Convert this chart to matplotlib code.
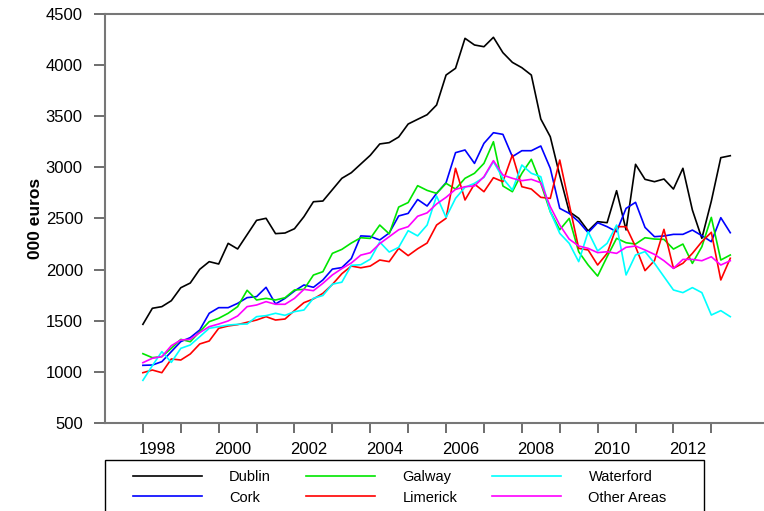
import numpy as np
import matplotlib
matplotlib.use("Agg")
from matplotlib import pyplot as plt
from matplotlib.patches import Rectangle

plt.rcParams['font.family'] = ['Liberation Sans', 'DejaVu Sans']

# quarterly, 1998 Q1 .. 2013 Q3
quarters = 1998 + np.arange(63) * 0.25

dublin = [1465, 1622, 1638, 1696, 1823, 1869, 2003, 2078, 2055, 2257, 2202, 2342, 2482, 2502, 2352, 2358, 2400, 2518, 2664,
          2671, 2782, 2893, 2948, 3033, 3118, 3229, 3242, 3297, 3424, 3470, 3515,
          3610, 3903, 3969, 4262, 4197, 4180, 4272, 4122, 4027, 3975, 3903, 3473, 3300,
          2920, 2567, 2502, 2378, 2469, 2459, 2772, 2388, 3030, 2883, 2860, 2886, 2788, 2991, 2583, 2306, 2670, 3095, 3114]
cork = [1064, 1067, 1100, 1198, 1296, 1335, 1410, 1573, 1628, 1628, 1670, 1726, 1736, 1827, 1664, 1719, 1791, 1850, 1827, 1899,
        2005, 2020, 2108, 2330, 2325, 2290, 2358, 2525, 2550, 2686, 2622,
        2746, 2850, 3144, 3170, 3039, 3235, 3339, 3323, 3105, 3163, 3163, 3209, 2991, 2599, 2550,
        2469, 2361, 2459, 2420, 2371, 2599, 2658, 2413, 2322, 2329, 2345, 2345, 2387, 2332, 2273, 2508, 2361]
galway = [1178, 1139, 1149, 1230, 1318, 1295, 1393, 1491, 1524, 1573, 1638, 1798, 1703, 1719, 1703,
          1725, 1801, 1807, 1947, 1980, 2159, 2198, 2260, 2312, 2305, 2436, 2350, 2612, 2656, 2821, 2775,
          2746, 2844, 2788, 2893, 2942, 3039, 3251, 2818, 2762, 2942, 3079, 2844, 2567, 2390, 2501,
          2175, 2045, 1937, 2126, 2306, 2263, 2250, 2312, 2299, 2296, 2201, 2250, 2061, 2224, 2511, 2094, 2143]
limerick = [992, 1018, 992, 1126, 1116, 1175, 1273, 1302, 1426, 1449, 1462, 1485, 1507, 1540, 1507, 1517, 1600, 1677, 1713, 1768,
            1855, 1960, 2035, 2018, 2035, 2094, 2078, 2208, 2137, 2204, 2260,
            2436, 2502, 2991, 2681, 2837, 2762, 2899, 2860, 3121, 2811, 2788, 2707, 2697, 3072, 2640,
            2208, 2192, 2045, 2159, 2420, 2420, 2225, 1990, 2088, 2394, 2013, 2062, 2159, 2273, 2365, 1899, 2111]
waterford = [917, 1061, 1198, 1093, 1230, 1263, 1344, 1426, 1442, 1458, 1465, 1468, 1540, 1550, 1573, 1553, 1589, 1605,
             1720, 1747, 1858, 1877, 2042, 2048, 2102, 2270, 2172, 2218, 2381, 2330, 2436,
             2720, 2511, 2697, 2805, 2844, 2902, 3056, 2893, 2779, 3023, 2942, 2909, 2567, 2355, 2257,
             2078, 2371, 2182, 2257, 2436, 1948, 2143, 2176, 2062, 1931, 1801, 1775, 1824, 1775, 1556, 1599, 1540]
other = [1090, 1133, 1149, 1256, 1312, 1318, 1384, 1442, 1468, 1498, 1547, 1638, 1654, 1687, 1661, 1661, 1719, 1807, 1794, 1866,
         1948, 2010, 2065, 2142, 2165, 2254, 2322, 2390, 2420, 2522, 2555,
         2642, 2707, 2785, 2811, 2818, 2909, 3066, 2925, 2893, 2870, 2883, 2850, 2616, 2436, 2298,
         2231, 2208, 2166, 2175, 2159, 2218, 2231, 2192, 2149, 2087, 2012, 2100, 2100, 2087, 2126, 2045, 2087]

series = [("Dublin", dublin, "#000000"), ("Cork", cork, "#0000ff"),
          ("Galway", galway, "#00e600"), ("Limerick", limerick, "#ff0000"),
          ("Waterford", waterford, "#00ffff"), ("Other Areas", other, "#ff00ff")]

year_ticks = np.arange(1998, 2014)
label_years = np.arange(1998, 2013, 2)

W, H = 764, 511
fig = plt.figure(figsize=(W / 100, H / 100), dpi=100)
ax = fig.add_axes([105 / W, 1 - 423 / H, 659 / W, 409 / H])

for name, vals, col in series:
    ax.plot(quarters, vals, color=col, lw=1.2, label=name)

ax.set_xlim(1997, 2014.39)
ax.set_ylim(500, 4500)
ax.set_yticks(np.arange(500, 4501, 500))
ax.tick_params(axis='y', length=8, width=1.2, color='#555555', pad=8, labelsize=12)

# year ticks, labels centred on the year's quarters
ax.set_xticks(year_ticks, minor=True)
ax.set_xticks(label_years + 0.375, [str(y) for y in label_years])
ax.tick_params(axis='x', which='minor', length=7, width=1.2, color='#555555')
ax.tick_params(axis='x', which='major', length=0, pad=14, labelsize=12)

for s in ['top', 'bottom', 'left']:
    ax.spines[s].set_color('#777777')
    ax.spines[s].set_linewidth(1.5)
ax.spines['right'].set_visible(False)

ax.set_ylabel("000 euros", fontsize=12.5, fontweight='bold', labelpad=2)

# legend box
fig.patches.append(Rectangle((105 / W, 1 - 518 / H), 599 / W, 58 / H, transform=fig.transFigure,
                             fill=False, edgecolor='black', lw=1.0))
h, l = ax.get_legend_handles_labels()
fig.legend(h, l, ncol=3, frameon=False,
           loc='upper left', bbox_to_anchor=(133 / W, 1 - 470 / H), borderpad=0, borderaxespad=0,
           handlelength=4.7, handletextpad=1.9, columnspacing=2.4, labelspacing=0.45,
           fontsize=10.5)

fig.savefig("out.png", dpi=100)
